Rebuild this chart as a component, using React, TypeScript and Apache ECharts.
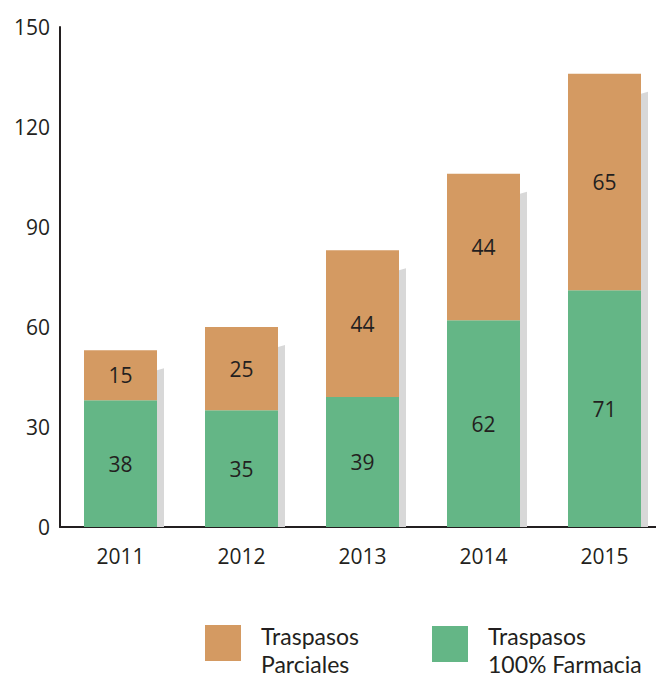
import React, { useEffect, useRef } from "react";
import * as echarts from "echarts";

const years = ["2011", "2012", "2013", "2014", "2015"];
const farmacia = [38, 35, 39, 62, 71];
const parciales = [15, 25, 44, 44, 65];
const totals = years.map((_, i) => farmacia[i] + parciales[i]);

const ORANGE = "#d49a62";
const GREEN = "#64b686";
const TEXT = "#231f20";
const FONT = "'Open Sans', 'DejaVu Sans', sans-serif";
const LEGEND_FONT = "Lato, 'Open Sans', sans-serif";

export default function App() {
  const ref = useRef<HTMLDivElement>(null);
  useEffect(() => {
    const chart = echarts.init(ref.current!, null, { renderer: "svg" });
    const labelStyle = {
      show: true,
      position: "inside",
      color: TEXT,
      fontSize: 21,
      fontFamily: FONT,
    };
    chart.setOption({
      animation: false,
      grid: { left: 60, top: 27, width: 605, height: 500 },
      xAxis: {
        type: "category",
        data: years,
        axisLine: { show: true, lineStyle: { color: TEXT, width: 2 } },
        axisTick: { show: false },
        axisLabel: { color: TEXT, fontSize: 21, fontFamily: FONT, margin: 18 },
      },
      yAxis: {
        type: "value",
        min: 0,
        max: 150,
        interval: 30,
        splitLine: { show: false },
        axisLine: { show: true, lineStyle: { color: TEXT, width: 2 } },
        axisTick: { show: false },
        axisLabel: { color: TEXT, fontSize: 21, fontFamily: FONT, margin: 10 },
      },
      series: [
        {
          type: "custom",
          name: "sombra",
          z: 1,
          silent: true,
          data: years.map((_, i) => [i, totals[i]]),
          renderItem: (params: any, api: any) => {
            const top = api.coord([api.value(0), api.value(1)]);
            const base = api.coord([api.value(0), 0]);
            const right = top[0] + 36.5;
            return {
              type: "polygon",
              shape: {
                points: [
                  [right, top[1] + 20],
                  [right + 7, top[1] + 18],
                  [right + 7, base[1]],
                  [right, base[1]],
                ],
              },
              style: { fill: "#d8d8d8" },
            };
          },
        },
        {
          type: "bar",
          name: "Traspasos 100% Farmacia",
          stack: "total",
          z: 2,
          barWidth: 73,
          data: farmacia,
          itemStyle: { color: GREEN },
          label: labelStyle,
        },
        {
          type: "bar",
          name: "Traspasos Parciales",
          stack: "total",
          z: 2,
          barWidth: 73,
          data: parciales,
          itemStyle: { color: ORANGE },
          label: labelStyle,
        },
      ],
      graphic: [
        { type: "rect", left: 205, top: 625, shape: { width: 36, height: 36 }, style: { fill: ORANGE } },
        {
          type: "text",
          left: 261,
          top: 622,
          style: {
            text: "Traspasos\nParciales",
            fill: TEXT,
            font: `23px ${LEGEND_FONT}`,
            lineHeight: 28,
          },
        },
        { type: "rect", left: 432, top: 626, shape: { width: 36, height: 36 }, style: { fill: GREEN } },
        {
          type: "text",
          left: 488,
          top: 622,
          style: {
            text: "Traspasos\n100% Farmacia",
            fill: TEXT,
            font: `23px ${LEGEND_FONT}`,
            lineHeight: 28,
          },
        },
      ],
    });
    return () => chart.dispose();
  }, []);
  return (
    <div
      style={{
        position: "absolute",
        left: 0,
        top: 0,
        width: 656,
        height: 679,
        overflow: "hidden",
      }}
    >
      <div ref={ref} style={{ width: 680, height: 679 }} />
    </div>
  );
}
